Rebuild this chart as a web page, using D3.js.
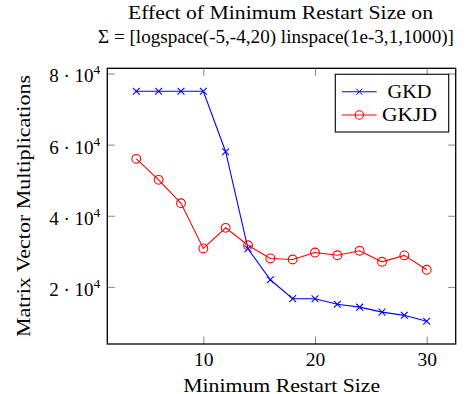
<!DOCTYPE html>
<html>
<head>
<meta charset="utf-8">
<script src="https://cdn.jsdelivr.net/npm/d3@7"></script>
<style>
  body { margin: 0; background: #fff; }
  svg text { font-family: "Liberation Serif", serif; fill: #000; }
</style>
</head>
<body>
<svg id="graph" width="466" height="394"></svg>
<script>
// restart sizes and matrix-vector counts
var restartSizes = [4, 6, 8, 10, 12, 14, 16, 18, 20, 22, 24, 26, 28, 30];
var gkd = [75000, 75000, 75000, 75000, 58000, 30700, 22000, 16700, 16650, 15100, 14300, 12900, 12000, 10350];
var gkjd = [56000, 50100, 43500, 30800, 36600, 31700, 28000, 27700, 29650, 28900, 30150, 27050, 28850, 24800];
var xTicks = [10, 20, 30];
var yTicks = [20000, 40000, 60000, 80000];
var seriesNames = ["GKD", "GKJD"];

function dibuja() {
    let svg = d3.select("#graph");
    var left = 107.3, right = 455.7, top = 68.3, bottom = 344;

    // limites ampliados un 10% como pgfplots
    var x = d3.scaleLinear().domain([1.4, 32.6]).range([left, right]);
    var y = d3.scaleLinear().domain([3940, 81460]).range([bottom, top]);

    // ticks hacia adentro en los cuatro lados
    var gx = svg.append("g")
        .attr("transform", "translate(0," + bottom + ")")
        .call(d3.axisBottom(x).tickValues(xTicks).tickSize(-7.5).tickPadding(20));
    svg.append("g")
        .attr("transform", "translate(0," + top + ")")
        .call(d3.axisTop(x).tickValues(xTicks).tickSize(-7.5).tickFormat(""));
    var gy = svg.append("g")
        .attr("transform", "translate(" + left + ",0)")
        .call(d3.axisLeft(y).tickValues(yTicks).tickSize(-7.5).tickPadding(8).tickFormat(""));
    svg.append("g")
        .attr("transform", "translate(" + right + ",0)")
        .call(d3.axisRight(y).tickValues(yTicks).tickSize(-7.5).tickFormat(""));

    svg.selectAll(".domain").remove();
    svg.selectAll(".tick line").attr("stroke", "#777").attr("stroke-width", 0.9);
    svg.selectAll("g").attr("font-family", null);

    gx.selectAll(".tick text")
        .attr("font-size", 19)
        .attr("dy", 0)
        .attr("y", 22)
        .attr("textLength", 19.5)
        .attr("lengthAdjust", "spacingAndGlyphs");

    // etiquetas del eje y: "8 · 10^4"
    gy.selectAll(".tick").each(function (d) {
        let t = d3.select(this).select("text")
            .attr("x", -7)
            .attr("dy", 0)
            .attr("y", 8.5)
            .attr("font-size", 19)
            .attr("text-anchor", "end");
        t.text(null);
        t.append("tspan").text((d / 10000) + " \u00b7 10");
        t.append("tspan").attr("dy", -8).attr("font-size", 13.5).text("4");
    });

    // marco
    svg.append("rect")
        .attr("x", left).attr("y", top)
        .attr("width", right - left).attr("height", bottom - top)
        .attr("fill", "none").attr("stroke", "#000").attr("stroke-width", 1.3);

    var line = d3.line().x((d, i) => x(restartSizes[i])).y(d => y(d));

    svg.append("path").datum(gkd)
        .attr("d", line).attr("fill", "none").attr("stroke", "#0000ff").attr("stroke-width", 1.1);
    svg.append("path").datum(gkjd)
        .attr("d", line).attr("fill", "none").attr("stroke", "#ff0000").attr("stroke-width", 1.1);

    var crossShape = { draw: (c, s) => { let r = 3.4; c.moveTo(-r, -r); c.lineTo(r, r); c.moveTo(-r, r); c.lineTo(r, -r); } };

    svg.append("g").selectAll(".cross")
        .data(gkd)
        .enter()
        .append("path")
        .attr("class", "cross")
        .attr("d", d3.symbol().type(crossShape))
        .attr("transform", (d, i) => "translate(" + x(restartSizes[i]) + "," + y(d) + ")")
        .attr("fill", "none").attr("stroke", "#0000ff").attr("stroke-width", 1.1);

    svg.append("g").selectAll(".circ")
        .data(gkjd)
        .enter()
        .append("circle")
        .attr("class", "circ")
        .attr("cx", (d, i) => x(restartSizes[i]))
        .attr("cy", d => y(d))
        .attr("r", 4.4)
        .attr("fill", "none").attr("stroke", "#ff0000").attr("stroke-width", 1.1);

    // leyenda
    var lg = svg.append("g");
    lg.append("rect")
        .attr("x", 335.3).attr("y", 74.3).attr("width", 113.4).attr("height", 57.7)
        .attr("fill", "#fff").attr("stroke", "#000").attr("stroke-width", 1.1);
    var colors = ["#0000ff", "#ff0000"];
    var rowsY = [91.7, 115];
    var nameWidths = [44, 55];
    seriesNames.forEach((name, i) => {
        lg.append("line")
            .attr("x1", 342).attr("x2", 376.7).attr("y1", rowsY[i]).attr("y2", rowsY[i])
            .attr("stroke", colors[i]).attr("stroke-width", 1.1);
        if (i == 0) {
            lg.append("path")
                .attr("d", d3.symbol().type(crossShape))
                .attr("transform", "translate(359.3," + rowsY[i] + ") scale(0.9)")
                .attr("fill", "none").attr("stroke", colors[i]).attr("stroke-width", 1.1);
        } else {
            lg.append("circle").attr("cx", 359.3).attr("cy", rowsY[i]).attr("r", 4.2)
                .attr("fill", "none").attr("stroke", colors[i]).attr("stroke-width", 1.1);
        }
        lg.append("text")
            .attr("x", 409.5).attr("y", rowsY[i] + 6.3)
            .attr("text-anchor", "middle")
            .attr("font-size", 19)
            .attr("textLength", nameWidths[i])
            .attr("lengthAdjust", "spacingAndGlyphs")
            .text(name);
    });

    // titulo y etiquetas
    svg.append("text")
        .attr("x", 280.5).attr("y", 19.3)
        .attr("text-anchor", "middle").attr("font-size", 18.5)
        .attr("textLength", 305).attr("lengthAdjust", "spacingAndGlyphs")
        .text("Effect of Minimum Restart Size on");
    svg.append("text")
        .attr("x", 276).attr("y", 42.5)
        .attr("text-anchor", "middle").attr("font-size", 18.5)
        .attr("textLength", 356).attr("lengthAdjust", "spacingAndGlyphs")
        .text("\u03a3 = [logspace(-5,-4,20) linspace(1e-3,1,1000)]");

    svg.append("text")
        .attr("x", 281.7).attr("y", 391.5)
        .attr("text-anchor", "middle").attr("font-size", 19)
        .attr("textLength", 197).attr("lengthAdjust", "spacingAndGlyphs")
        .text("Minimum Restart Size");

    svg.append("text")
        .attr("transform", "translate(29.5,206) rotate(-90)")
        .attr("text-anchor", "middle").attr("font-size", 19)
        .attr("textLength", 262).attr("lengthAdjust", "spacingAndGlyphs")
        .text("Matrix Vector Multiplications");
}

dibuja();
</script>
</body>
</html>
